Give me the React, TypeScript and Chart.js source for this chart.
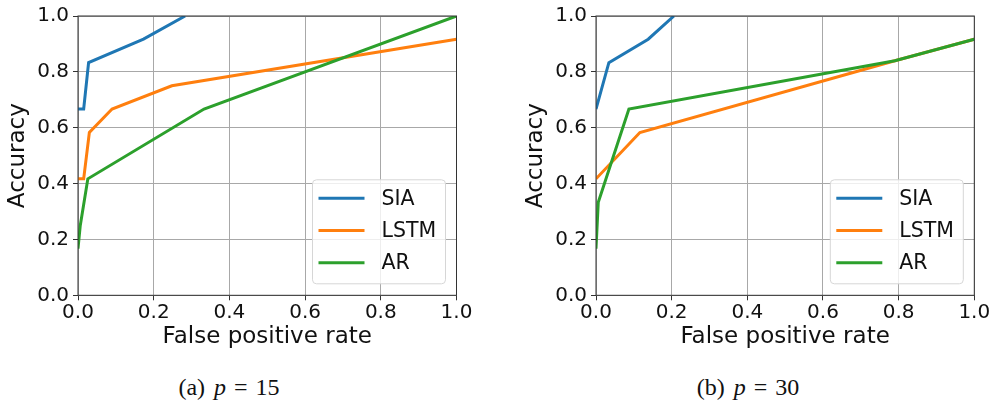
import React, { useEffect, useRef } from "react";
import { Chart, registerables } from "chart.js";

Chart.register(...registerables);

// ---- data ----
const seriesNames = ["SIA", "LSTM", "AR"];
const seriesColors = ["#1f77b4", "#ff7f0e", "#2ca02c"];

// (a) p = 15
const fprA_SIA = [0, 0.015, 0.028, 0.173, 0.283];
const accA_SIA = [0.667, 0.667, 0.833, 0.917, 1.0];
const fprA_LSTM = [0, 0.015, 0.03, 0.09, 0.248, 1.0];
const accA_LSTM = [0.417, 0.417, 0.583, 0.667, 0.75, 0.917];
const fprA_AR = [0, 0.006, 0.026, 0.333, 1.0];
const accA_AR = [0.167, 0.25, 0.417, 0.667, 1.0];

// (b) p = 30
const fprB_SIA = [0, 0.034, 0.138, 0.206];
const accB_SIA = [0.667, 0.833, 0.917, 1.0];
const fprB_LSTM = [0, 0.116, 0.79, 1.0];
const accB_LSTM = [0.417, 0.583, 0.84, 0.917];
const fprB_AR = [0, 0.006, 0.087, 0.79, 1.0];
const accB_AR = [0.167, 0.333, 0.667, 0.84, 0.917];

const xTitle = "False positive rate";
const yTitle = "Accuracy";
const axisMin = 0;
const axisMax = 1;
const tickStep = 0.2;

const zip = (xs: number[], ys: number[]) => xs.map((x, i) => ({ x, y: ys[i] }));

const panelA = [zip(fprA_SIA, accA_SIA), zip(fprA_LSTM, accA_LSTM), zip(fprA_AR, accA_AR)];
const panelB = [zip(fprB_SIA, accB_SIA), zip(fprB_LSTM, accB_LSTM), zip(fprB_AR, accB_AR)];

const SANS = "'DejaVu Sans', sans-serif";

const frameLegendPlugin = {
  id: "frameLegend",
  afterDatasetsDraw(chart: any) {
    const { ctx, chartArea: a } = chart;
    ctx.save();
    // frame (spines)
    ctx.strokeStyle = "#333333";
    ctx.lineWidth = 1;
    ctx.strokeRect(a.left, a.top, a.right - a.left, a.bottom - a.top);
    // legend box
    const w = 133;
    const h = 104;
    const x = a.right - 11 - w;
    const y = a.bottom - 11.5 - h;
    const r = 4;
    ctx.beginPath();
    ctx.moveTo(x + r, y);
    ctx.lineTo(x + w - r, y);
    ctx.arcTo(x + w, y, x + w, y + r, r);
    ctx.lineTo(x + w, y + h - r);
    ctx.arcTo(x + w, y + h, x + w - r, y + h, r);
    ctx.lineTo(x + r, y + h);
    ctx.arcTo(x, y + h, x, y + h - r, r);
    ctx.lineTo(x, y + r);
    ctx.arcTo(x, y, x + r, y, r);
    ctx.closePath();
    ctx.fillStyle = "rgba(255,255,255,0.8)";
    ctx.fill();
    ctx.strokeStyle = "#d6d6d6";
    ctx.lineWidth = 1;
    ctx.stroke();
    ctx.font = `20.5px ${SANS}`;
    ctx.textBaseline = "middle";
    ctx.textAlign = "left";
    chart.data.datasets.forEach((ds: any, i: number) => {
      const cy = y + 18.5 + i * 32.2;
      ctx.beginPath();
      ctx.strokeStyle = ds.borderColor;
      ctx.lineWidth = 3;
      ctx.moveTo(x + 6, cy);
      ctx.lineTo(x + 52, cy);
      ctx.stroke();
      ctx.fillStyle = "#111111";
      ctx.fillText(ds.label, x + 69, cy + 1);
    });
    ctx.restore();
  },
};

function Panel({ data, width, height, rightPad }: { data: { x: number; y: number }[][]; width: number; height: number; rightPad: number }) {
  const ref = useRef<HTMLCanvasElement | null>(null);
  useEffect(() => {
    if (!ref.current) return;
    const chart = new Chart(ref.current, {
      type: "scatter",
      data: {
        datasets: data.map((pts, i) => ({
          label: seriesNames[i],
          data: pts,
          showLine: true,
          borderColor: seriesColors[i],
          backgroundColor: seriesColors[i],
          borderWidth: 3,
          pointRadius: 0,
          pointHoverRadius: 0,
          tension: 0,
          order: data.length - 1 - i,
        })),
      },
      options: {
        responsive: false,
        animation: false,
        events: [],
        layout: { padding: { top: 14.7, right: rightPad, bottom: 0, left: 0 } },
        plugins: { legend: { display: false }, tooltip: { enabled: false } },
        scales: {
          x: {
            type: "linear",
            min: axisMin,
            max: axisMax,
            afterFit: (s: any) => {
              s.height = 64.7;
            },
            ticks: {
              stepSize: tickStep,
              padding: 0,
              color: "#111111",
              font: { family: SANS, size: 20 },
              callback: (v: any) => Number(v).toFixed(1),
              maxRotation: 0,
            },
            grid: { color: "#a8a8a8", lineWidth: 1, tickLength: 5, tickColor: "#333333" },
            border: { display: false },
            title: {
              display: true,
              text: xTitle,
              color: "#111111",
              font: { family: SANS, size: 23 },
              padding: { top: 0, bottom: 9.5 },
            },
          },
          y: {
            type: "linear",
            min: axisMin,
            max: axisMax,
            afterFit: (s: any) => {
              s.width = 78;
            },
            ticks: {
              stepSize: tickStep,
              padding: 4,
              color: "#111111",
              font: { family: SANS, size: 20 },
              callback: (v: any) => Number(v).toFixed(1),
            },
            grid: { color: "#a8a8a8", lineWidth: 1, tickLength: 5, tickColor: "#333333" },
            border: { display: false },
            title: {
              display: true,
              text: yTitle,
              color: "#111111",
              font: { family: SANS, size: 23 },
              padding: { top: 4.5, bottom: 0 },
            },
          },
        },
      },
      plugins: [frameLegendPlugin],
    } as any);
    return () => chart.destroy();
  }, []);
  return <canvas ref={ref} width={width} height={height} style={{ display: "block" }} />;
}

const captionStyle: React.CSSProperties = {
  position: "absolute",
  top: 374,
  width: 200,
  textAlign: "center",
  fontFamily: "'Liberation Serif', serif",
  fontSize: 24,
  lineHeight: "26px",
  color: "#111",
  whiteSpace: "nowrap",
};

export default function App() {
  return (
    <div style={{ position: "absolute", left: 0, top: 0, width: 993, height: 402, background: "#fff", overflow: "hidden" }}>
      <div style={{ position: "absolute", left: 0, top: 0 }}>
        <Panel data={panelA} width={490} height={360} rightPad={33.5} />
      </div>
      <div style={{ position: "absolute", left: 518, top: 0 }}>
        <Panel data={panelB} width={475} height={360} rightPad={18.7} />
      </div>
      <div style={{ ...captionStyle, left: 229 - 100 }}>
        (a)<span style={{ marginLeft: 9 }}><i>p</i></span>
        <span style={{ margin: "0 8px" }}>=</span>15
      </div>
      <div style={{ ...captionStyle, left: 748 - 100 }}>
        (b)<span style={{ marginLeft: 9 }}><i>p</i></span>
        <span style={{ margin: "0 8px" }}>=</span>30
      </div>
    </div>
  );
}
